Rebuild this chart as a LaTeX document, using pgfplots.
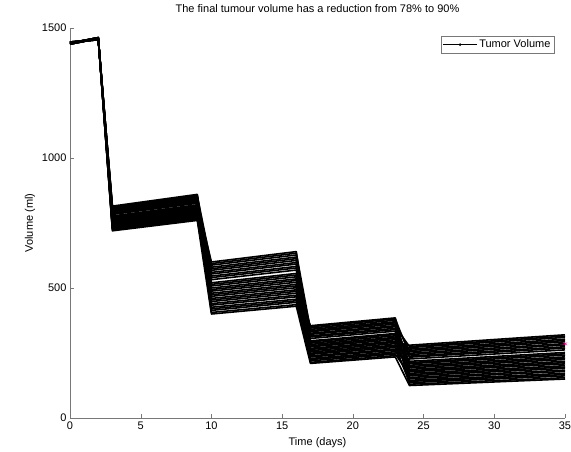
\documentclass[border=0pt]{standalone}
\usepackage{fontspec}
\setmainfont{Liberation Sans}
\usepackage{pgfplots}
\usepackage{pgfplotstable}
\pgfplotsset{compat=1.18}
\definecolor{axisgray}{RGB}{120,120,120}

% tumour volume trajectories, one column per simulated case
\pgfplotstableread{
t  y0   y1   y2   y3   y4   y5   y6   y7   y8   y9   y10  y11  y12  y13  y14  y15  y16  y17  y18  y19  y20  y21  y22  y23  y24  y25  y26  y27  y28  y29
0  1438 1440 1442 1444 1446 1438 1440 1442 1444 1446 1438 1440 1442 1444 1446 1438 1440 1442 1444 1446 1438 1440 1442 1444 1446 1438 1440 1442 1444 1446
2  1459 1461 1463 1455 1457 1459 1461 1463 1455 1457 1459 1461 1463 1455 1457 1459 1461 1463 1455 1457 1459 1461 1463 1455 1457 1459 1461 1463 1455 1457
3  720  723  727  730  732  736  739  743  746  749  752  755  758  762  765  768  771  774  777  783  787  789  793  796  800  803  806  809  812  815
9  760  763  767  770  773  777  780  784  787  790  794  797  800  804  807  810  814  817  820  826  830  833  837  840  844  847  850  854  857  860
10 400  474  554  420  494  574  440  514  594  460  540  406  480  560  426  500  580  448  520  600  468  546  414  488  568  434  508  588  454  532
16 430  508  592  451  529  613  472  550  634  493  577  436  514  598  457  535  619  480  556  640  501  583  445  522  606  466  543  627  487  569
17 210  245  278  316  351  235  268  306  341  225  259  293  332  214  249  283  322  355  239  274  312  346  229  264  297  336  220  254  288  326
23 235  271  306  345  381  261  295  334  370  250  286  321  361  240  276  310  351  385  265  301  340  376  255  291  325  366  246  280  316  355
24 125  193  265  172  244  151  218  130  198  271  178  249  156  227  136  203  275  182  255  162  234  141  209  280  187  260  167  238  145  213
35 150  225  303  201  281  179  252  155  230  310  208  286  184  262  162  235  315  213  293  191  269  167  242  320  218  298  196  274  172  247
}\vol

\begin{document}
\begin{tikzpicture}
\begin{axis}[
    at={(0,0)}, anchor=south west,
    scale only axis,
    width=495pt, height=390pt,
    xmin=0, xmax=35, ymin=0, ymax=1500,
    xtick={0,5,...,35},
    ytick={0,500,1000,1500},
    axis lines=left,
    axis line style={-, axisgray},
    tick style={axisgray},
    major tick length=4pt,
    tick align=inside,
    font=\fontsize{11}{13}\selectfont,
    /pgf/number format/assume math mode=true,
    /pgf/number format/1000 sep={},
    scaled y ticks=false,
    clip=false,
    title={The final tumour volume has a reduction from 78\% to 90\%},
    every axis title/.style={at={(axis description cs:0.5,1.051)}, anchor=center},
    xlabel={Time (days)},
    every axis x label/.style={at={(axis description cs:0.5,-0.062)}, anchor=center},
    ylabel={Volume (ml)},
    every axis y label/.style={at={(axis description cs:-0.081,0.5)}, rotate=90, anchor=center},
    legend style={at={(axis description cs:0.978,0.979)}, anchor=north east,
        draw=axisgray, inner sep=1.5pt, font=\fontsize{11}{13}\selectfont},
    legend cell align=left,
    legend image code/.code={
        \draw[line width=0.4pt] (0cm,0cm) -- (1.2cm,0cm);
        \fill (0.6cm,0cm) circle (1.1pt);
    },
]
\pgfplotsinvokeforeach{0,...,29}{
    \addplot[black, line width=1.6pt, line join=round, forget plot] table[x=t, y=y#1] {\vol};
}
\addlegendimage{black}
\addlegendentry{Tumor Volume}
\addplot[only marks, mark=asterisk, magenta, mark size=2.5pt, forget plot] coordinates {(35,285)};
\end{axis}
\pgfresetboundingbox
\path[use as bounding box] (-70pt,-33pt) rectangle (501pt,418pt);
\end{tikzpicture}
\end{document}
